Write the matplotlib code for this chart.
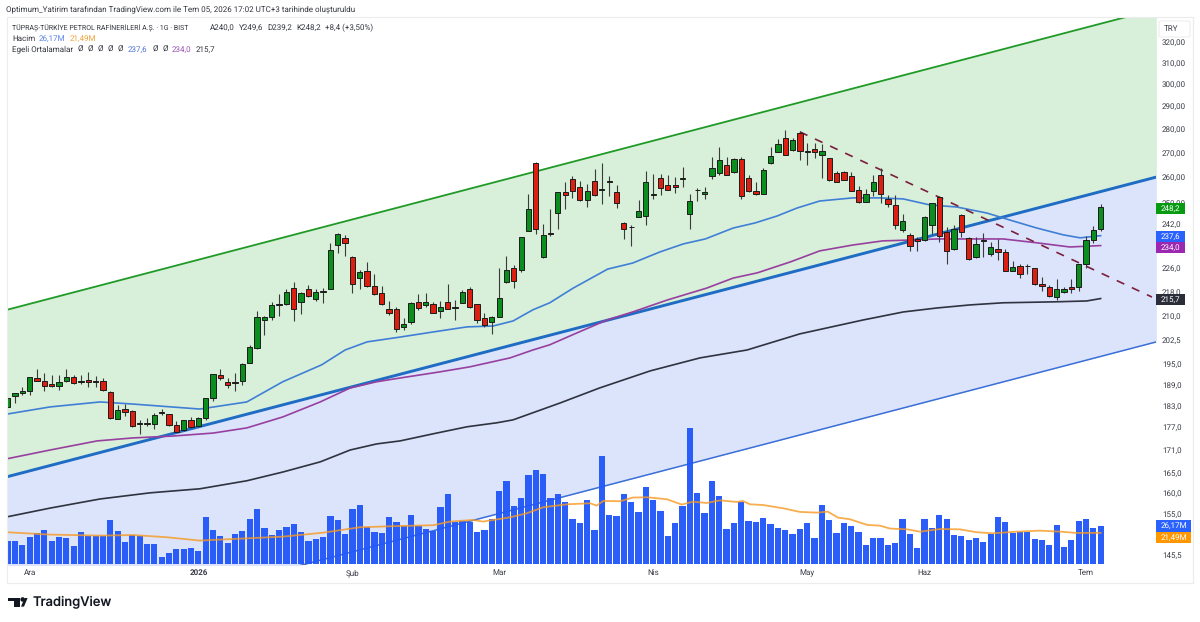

import matplotlib
matplotlib.use('Agg')
import matplotlib.pyplot as plt
from matplotlib.patches import Rectangle, Polygon, FancyBboxPatch
from matplotlib.ticker import NullLocator, FixedLocator, FixedFormatter

# Daily candles, one row of 25 sessions per source line
opens = [
    182.5,185.8,186.5,187.2,190.8,189.9,189.2,188.7,189.9,191.2,189.6,190.2,190.0,189.9,186.9,179.3,182.0,181.4,178.0,178.2,177.9,181.2,180.5,177.7,176.1,
    179.0,177.2,179.4,185.2,191.8,189.8,189.4,190.1,195.5,199.8,208.6,209.8,213.6,213.8,219.1,214.5,218.8,215.5,218.0,219.0,234.1,236.9,230.1,222.5,225.1,
    219.9,217.5,212.4,212.2,206.4,208.2,214.6,213.6,214.0,211.7,214.6,212.7,214.3,218.8,213.8,209.3,208.1,209.8,221.2,226.0,225.4,239.4,265.7,229.8,238.7,
    246.2,254.0,259.4,256.2,251.1,258.3,254.8,258.0,254.1,242.4,240.6,244.5,244.9,252.9,259.5,256.7,257.0,259.1,245.5,254.8,253.2,260.6,261.6,265.0,261.9,
    267.2,259.8,254.6,253.5,265.6,270.2,276.0,271.2,278.1,270.4,271.6,269.1,267.6,261.8,262.2,260.6,254.9,250.4,254.6,260.7,251.5,249.0,239.6,237.9,236.3,
    235.9,241.4,252.2,239.0,232.6,245.3,236.6,229.8,235.6,231.0,232.7,231.7,225.2,226.7,226.8,226.0,220.6,219.7,216.1,217.9,219.5,219.7,227.3,235.9,240.0]
highs = [
    185.2,186.5,188.4,191.3,193.6,192.3,191.8,191.8,193.6,191.8,191.8,192.6,191.5,191.0,187.1,183.2,183.4,181.8,179.0,179.4,180.8,181.9,180.6,178.8,179.0,
    179.9,179.7,185.2,192.1,193.5,190.8,192.5,195.5,200.7,211.6,210.0,214.7,217.1,218.8,221.2,218.0,220.1,218.8,219.1,234.8,238.5,237.9,230.3,225.4,228.1,
    224.0,219.9,214.9,212.8,209.3,214.7,217.2,217.5,214.4,214.9,220.6,215.2,218.4,219.5,214.0,211.1,210.0,226.0,230.3,227.1,237.2,253.3,266.0,241.8,247.7,
    254.1,258.2,260.6,258.4,257.1,263.4,265.6,260.4,256.9,242.5,241.5,251.0,262.6,261.1,261.2,260.8,260.2,264.2,253.3,255.8,255.9,268.0,272.2,268.0,267.9,
    268.3,260.8,258.2,263.8,272.2,275.5,279.5,276.0,279.2,274.1,273.8,273.6,267.9,262.4,262.4,262.2,256.5,255.2,260.8,263.8,252.9,253.1,245.5,238.7,237.2,
    244.9,250.0,252.4,240.9,241.5,245.5,237.2,237.0,238.7,235.4,236.4,232.8,228.5,227.5,227.5,226.1,223.1,220.1,222.4,219.7,222.4,227.5,237.6,241.2,249.6]
lows = [
    182.5,183.8,186.0,186.0,189.9,187.0,188.4,187.4,189.6,189.2,189.2,188.4,188.4,187.2,179.2,179.2,180.1,177.0,175.2,177.3,176.6,180.4,177.3,175.6,176.0,
    176.7,177.0,179.0,184.2,190.3,187.9,187.0,188.9,195.3,199.7,203.9,208.7,210.1,213.6,208.5,210.7,216.1,214.9,214.1,218.9,231.2,230.4,217.7,218.9,219.7,
    216.9,213.7,210.3,205.0,205.5,207.4,212.0,213.0,210.9,209.5,212.2,208.7,214.1,212.5,207.9,206.6,204.2,209.6,220.8,219.2,224.8,239.3,238.2,229.7,237.5,
    240.2,247.7,251.6,250.7,248.2,252.7,249.3,252.6,247.8,236.4,234.0,244.4,241.4,251.3,252.8,254.9,253.6,256.1,240.2,250.6,251.5,259.4,260.7,260.8,261.5,
    251.4,254.1,252.9,253.2,265.4,270.1,268.8,270.8,266.9,264.9,267.6,259.5,258.4,257.9,258.8,254.4,250.0,250.1,252.6,249.7,248.4,240.2,239.1,232.1,232.2,
    235.7,238.1,235.4,227.3,232.4,237.2,228.7,229.6,230.1,230.4,228.9,224.9,225.1,222.5,224.0,220.4,218.2,216.3,215.1,217.5,217.5,218.1,226.0,235.1,239.2]
closes = [
    185.2,186.5,187.1,191.1,190.1,188.7,188.7,189.8,191.1,189.5,190.0,189.6,189.7,187.3,179.4,181.7,181.1,177.2,178.2,177.9,180.4,180.8,177.7,175.8,178.9,
    177.0,179.5,185.1,192.0,191.0,188.8,189.6,195.0,200.1,209.8,209.8,213.5,213.8,217.8,212.2,217.5,216.6,217.8,218.2,232.3,238.3,235.1,220.5,224.6,219.9,
    217.2,213.9,211.0,205.8,207.3,214.3,212.7,214.5,211.0,213.0,212.4,212.9,217.9,213.0,208.8,207.2,209.7,215.8,225.5,221.7,237.0,247.7,239.9,237.7,238.1,
    254.0,252.8,254.6,251.0,254.4,252.9,255.2,258.6,250.0,239.9,240.8,246.7,258.0,253.5,255.8,255.0,256.2,259.5,250.6,255.0,254.1,263.5,266.9,261.0,267.5,
    252.7,254.6,253.2,262.7,268.6,273.6,269.1,275.3,270.5,270.6,270.2,270.6,258.7,258.0,259.0,254.6,250.4,253.2,258.0,253.5,249.6,241.4,242.9,233.7,235.8,
    244.7,249.8,237.6,232.0,240.2,238.8,229.1,234.6,236.0,233.5,231.6,225.1,226.4,223.9,226.6,220.6,220.0,216.7,219.0,219.0,219.0,227.4,235.9,239.6,248.2]
# Session volume in millions of shares
volumes = [
    16.2,16.2,13.2,18.9,21.2,23.7,16.2,18.9,17.8,12.5,21.9,19.4,19.4,19.4,30.3,22.8,15.5,20.0,19.4,13.9,
    13.9,5.2,8.0,10.7,10.7,11.2,9.3,32.1,23.2,19.4,14.8,20.5,22.8,31.2,37.6,24.6,20.0,23.2,25.5,27.3,
    21.9,16.2,17.1,18.5,33.0,30.3,21.0,37.6,40.3,25.5,22.3,21.4,32.6,28.7,26.4,33.9,26.2,24.4,22.8,39.0,
    48.3,28.9,29.6,28.9,21.9,23.2,30.8,50.3,56.7,39.6,45.6,60.8,64.2,61.7,45.1,48.3,42.8,30.8,28.5,43.7,
    23.2,74.0,33.5,33.0,47.8,42.8,35.8,52.6,44.2,36.7,19.6,28.5,39.6,93.4,48.7,35.3,57.2,46.7,24.1,28.5,
    42.8,29.4,28.9,31.7,27.6,24.6,23.7,21.0,24.1,28.5,17.8,40.3,30.3,21.4,28.0,26.2,21.9,13.2,18.2,18.2,
    13.2,14.6,30.8,20.5,11.2,30.8,25.1,33.5,30.8,20.0,19.6,16.4,18.2,15.5,21.0,32.1,28.9,21.4,22.1,22.3,
    17.3,16.9,13.2,26.7,11.6,16.4,29.4,31.2,24.6,26.17]
# Volume moving average
vol_ma_bars = [-0.1,5.8,12.6,17.1,21.7,26.2,29.9,37.5,43.0,48.0,53.5,58.0,60.3,63.4,64.8,68.5,70.8,73.0,76.3,79.4,80.3,81.2,83.5,85.2,87.2,89.9,91.9,93.4,95.3,97.1,99.4,100.2,101.2,103.0,105.7,108.0,110.3,111.8,113.2,114.8,117.2,118.9,120.3,122.6,124.4,127.1,129.8,132.1,134.3,137.6,140.7,143.5,145.8,149.0]
vol_ma = [21.9,20.3,19.6,20.0,18.5,16.2,17.1,18.9,21.6,25.3,26.2,26.7,29.2,30.3,29.2,32.1,34.9,39.0,41.0,41.7,40.1,43.3,43.1,45.6,45.8,44.4,40.8,42.8,41.9,43.7,42.6,43.3,41.0,40.5,38.3,35.8,35.3,36.0,31.9,30.8,26.9,26.4,24.4,23.9,22.3,24.1,23.9,21.9,21.2,22.3,23.0,22.3,21.4,21.49]
# Exponential moving averages on the price pane
ema_a_bars = [-0.1,5.8,12.6,17.1,26.2,32.6,37.5,42.8,46.0,49.0,53.5,58.0,62.6,66.2,68.9,71.6,73.9,77.1,81.8,85.2,88.9,92.1,95.1,98.9,101.9,104.9,107.6,110.7,115.2,118.9,122.1,125.7,129.4,133.5,136.6,140.3,143.9,146.2,149.0]
ema_a = [180.6,182.6,184.0,183.4,182.0,184.0,189.8,194.8,199.3,201.8,203.3,204.9,206.5,206.8,208.4,212.0,214.3,219.2,225.7,227.8,231.7,234.6,236.4,240.4,242.3,244.9,247.9,250.6,251.8,251.8,251.4,249.1,248.3,246.0,243.4,240.4,237.9,236.8,237.6]
ema_b_bars = [-0.1,5.8,12.2,17.1,22.5,28.0,32.6,37.5,42.6,46.7,50.3,53.5,58.9,63.0,68.5,71.6,73.9,77.6,81.7,85.2,89.9,95.3,98.9,102.2,106.7,110.7,115.2,119.3,123.0,126.7,131.2,135.7,140.3,144.8,149.0]
ema_b = [168.6,170.9,173.3,174.1,174.6,175.4,176.8,179.8,184.0,188.0,189.8,190.9,192.7,194.2,196.9,199.3,200.9,204.6,208.7,211.3,215.2,219.2,222.6,224.4,228.2,232.1,234.2,235.7,236.0,236.4,236.4,236.4,235.0,233.5,234.0]
ema_c_bars = [-0.1,5.8,12.6,19.4,26.2,32.6,37.5,42.6,46.7,50.3,53.5,58.0,62.6,66.7,68.9,75.3,80.7,87.6,94.4,100.8,108.0,116.6,122.1,126.7,131.2,135.7,142.5,147.1,149.0]
ema_c = [154.2,156.3,158.5,160.0,161.0,163.0,165.2,167.8,170.9,172.5,173.3,175.2,177.1,178.2,179.0,183.7,188.0,193.0,196.9,199.3,204.3,208.7,211.3,212.6,213.6,214.3,214.6,214.9,215.7]
# Drawn channel and falling trend line, as end points
channel_bars = [-0.1,156.6]
channel_top = [212.0,336.6]
channel_mid = [164.0,260.0]
channel_low = [127.2,201.8]
fall_bars = [108.0,156.0]
fall_prices = [278.7,216.2]
# Axis labels
price_ticks = [320,310,300,290,280,270,260,250,242,226,218,210,202.5,195,189,183,177,171,165,160,155,145.5]
price_labels = ['320,00','310,00','300,00','290,00','280,00','270,00','260,00','250,00','242,0','226,0','218,0','210,0','202,5','195,0','189,0','183,0','177,0','171,0','165,0','160,0','155,0','145,5']
date_ticks = [3,26,47,67,88,109,125,147]
date_labels = ['Ara','2026','Şub','Mar','Nis','May','Haz','Tem']

W, H = 1200, 622
UP, DOWN = '#0a8f1e', '#dc1f10'
TICK_SIZE = 5.7
HEAD_SIZE = 5.6
plt.rcParams['font.family'] = ['Roboto', 'DejaVu Sans']
plt.rcParams['text.hinting'] = 'none'
plt.rcParams['text.hinting_factor'] = 1
fig = plt.figure(figsize=(W/100, H/100), dpi=100, facecolor='white')

def fx(x): return x / W
def fy(y): return 1 - y / H

ax = fig.add_axes([fx(7), fy(565), 1149/W, 548/H], zorder=1)
ax.set_xlim(-0.095, 156.55)
ax.set_yscale('log')
ax.set_ylim(143.2, 332.54)
for s in ax.spines.values():
    s.set_visible(False)

# channel fills and borders
ax.fill_between(channel_bars, channel_mid, channel_top, color='#d8efd9', lw=0, zorder=1)
ax.fill_between(channel_bars, channel_low, channel_mid, color='#dce4fb', lw=0, zorder=1)
ax.plot(channel_bars, channel_top, color='#1f9a26', lw=1.3, zorder=2)
ax.plot(channel_bars, channel_low, color='#3a6fd8', lw=1.1, zorder=2)
ax.plot(channel_bars, channel_mid, color='#1f6cc4', lw=2.1, zorder=3, solid_capstyle='butt')

# moving averages
ax.plot(ema_a_bars, ema_a, color='#3f7fd6', lw=1.2, zorder=4)
ax.plot(ema_b_bars, ema_b, color='#97409f', lw=1.2, zorder=4)
ax.plot(ema_c_bars, ema_c, color='#2f3340', lw=1.2, zorder=4)
ax.plot(fall_bars, fall_prices, color='#7a1f3d', lw=1.2, ls=(0, (5, 5)), zorder=6)

# candles
bars = list(range(len(closes)))
ax.vlines(bars, lows, highs, color='#3a3a3a', lw=0.8, zorder=7)
tops = [max(o, c) for o, c in zip(opens, closes)]
bottoms = [min(o, c) for o, c in zip(opens, closes)]
colors = [UP if c >= o else DOWN for o, c in zip(opens, closes)]
ax.bar(bars, [t - b for t, b in zip(tops, bottoms)], bottom=bottoms, width=0.72,
       color=colors, edgecolor='#1c1c1c', linewidth=0.7, zorder=8)

# price scale
ax.yaxis.tick_right()
ax.yaxis.set_major_locator(FixedLocator(price_ticks))
ax.yaxis.set_major_formatter(FixedFormatter(price_labels))
ax.yaxis.set_minor_locator(NullLocator())
ax.tick_params(axis='y', length=0, pad=4.2, labelsize=TICK_SIZE, labelcolor='#3a3d47')
ax.set_xticks(date_ticks)
ax.set_xticklabels(date_labels)
ax.tick_params(axis='x', length=0, pad=3.0, labelsize=TICK_SIZE, labelcolor='#3a3d47')
ax.get_xticklabels()[1].set_fontweight('bold')

# volume pane shares the lower part of the price pane
vax = fig.add_axes(ax.get_position(), zorder=2)
vax.patch.set_visible(False)
vax.set_xlim(ax.get_xlim())
vax.set_ylim(-0.48, 374)
vax.axis('off')
vax.bar(bars, volumes, width=0.84, color='#2458f8', alpha=0.97, lw=0)
vax.plot(vol_ma_bars, vol_ma, color='#f79a22', lw=1.3, alpha=0.8)

fig.canvas.draw()

# frame around chart and scales
frame = '#ececec'
fig.add_artist(Rectangle((fx(6.5), fy(583)), 1186.5/W, 566/H, transform=fig.transFigure,
                         fill=False, ec=frame, lw=0.8, zorder=5))
fig.add_artist(plt.Line2D([fx(1193), fx(1193)], [fy(17), fy(583)], color=frame, lw=0.8))

# TRY box
fig.add_artist(FancyBboxPatch((fx(1159), fy(37)), 31/W, 16/H, transform=fig.transFigure,
                              boxstyle='round,pad=0,rounding_size=0.002', fc='white', ec='#eeeeee', lw=0.8, zorder=6))
fig.text(fx(1171), fy(29), 'TRY', color='#3a3d47', fontsize=TICK_SIZE, ha='center', va='center', zorder=7)

def price_y(value):
    return H - ax.transData.transform((0, value))[1]

def tag(value, text, color, nudge=1.0, width=28.5):
    yc = price_y(value) + nudge
    fig.add_artist(Rectangle((fx(1156), fy(yc + 5.6)), width/W, 11.2/H, transform=fig.transFigure,
                             fc=color, ec='none', zorder=8))
    fig.text(fx(1156 + width/2), fy(yc), text, color='white', fontsize=TICK_SIZE, ha='center', va='center', zorder=9)

tag(closes[-1], '248,2', '#089a10')
tag(ema_a[-1], '237,6', '#2962ff')
tag(ema_b[-1], '234,0', '#9c27b0', nudge=1.6)
tag(ema_c[-1], '215,7', '#2a2e39')

def vol_tag(yc, text, color):
    fig.add_artist(Rectangle((fx(1156), fy(yc + 5.6)), 35/W, 11.2/H, transform=fig.transFigure,
                             fc=color, ec='none', zorder=8))
    fig.text(fx(1173.5), fy(yc), text, color='white', fontsize=TICK_SIZE, ha='center', va='center', zorder=9)

vol_tag(526, '26,17M', '#2962ff')
vol_tag(537.5, '21,49M', '#ff9800')

# header lines
fig.text(fx(6), fy(9.5), 'Optimum_Yatirim tarafından TradingView.com ile Tem 05, 2026 17:02 UTC+3 tarihinde oluşturuldu',
         fontsize=5.5, color='#33363f', va='center')
def legend(x, y, text, color='#33363f', size=HEAD_SIZE):
    fig.text(fx(x), fy(y), text, fontsize=size, color=color, va='center', zorder=9)
legend(12, 27.5, 'TÜPRAŞ-TÜRKİYE PETROL RAFİNERİLERİ A.Ş. · 1G · BIST', size=5.25)
legend(210, 27.5, 'A240,0')
legend(238.5, 27.5, 'Y249,6')
legend(267, 27.5, 'D239,2')
legend(296, 27.5, 'K248,2')
legend(325, 27.5, '+8,4 (+3,50%)')
legend(12, 38.5, 'Hacim')
legend(38.5, 38.5, '26,17M', '#5b82e8')
legend(69.5, 38.5, '21,49M', '#f0a23c')
legend(12, 49.5, 'Egeli Ortalamalar')
for x in (78, 88, 98, 108, 118):
    legend(x, 49.5, 'Ø')
legend(128, 49.5, '237,6', '#4f74d8')
for x in (152.5, 162.5):
    legend(x, 49.5, 'Ø')
legend(172, 49.5, '234,0', '#9c4fb5')
legend(196, 49.5, '215,7')

# brand mark
black = '#131722'
fig.add_artist(Polygon([(fx(8), fy(598)), (fx(19.8), fy(598)), (fx(19.8), fy(606.6)), (fx(14), fy(606.6)),
                        (fx(14), fy(601.4)), (fx(8), fy(601.4))], closed=True, transform=fig.transFigure, fc=black, ec='none'))
fig.add_artist(Polygon([(fx(21), fy(606.6)), (fx(24.6), fy(598)), (fx(27.6), fy(598)), (fx(24), fy(606.6))],
                       closed=True, transform=fig.transFigure, fc=black, ec='none'))
fig.text(fx(22.4), fy(599.8), '●', fontsize=4.5, color=black, ha='center', va='center', family='DejaVu Sans')
fig.text(fx(32.5), fy(602), 'TradingView', fontsize=9.4, fontweight='medium', color=black, va='center', family='Inter')

fig.savefig('out.png', dpi=100, facecolor='white')
